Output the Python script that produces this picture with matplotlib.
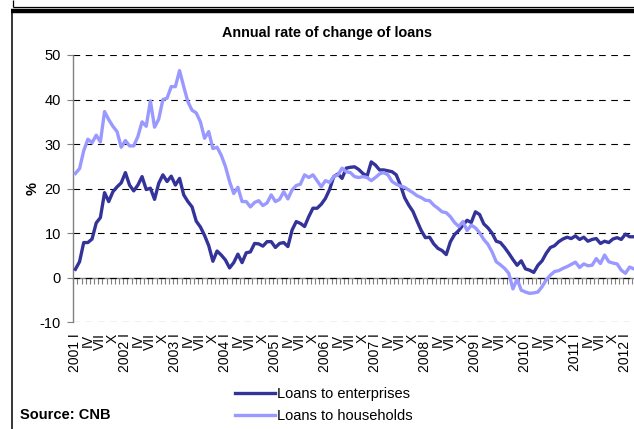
import numpy as np
import matplotlib
matplotlib.use("Agg")
import matplotlib.pyplot as plt
from matplotlib.lines import Line2D

plt.rcParams['font.family'] = ['Liberation Sans', 'DejaVu Sans']

# Monthly annual growth rates, Jan 2001 - Mar 2012 (%)
enterprises = [
    1.9, 3.6, 7.9, 7.9, 8.7, 12.3, 13.5, 19.1, 17.1, 19.3, 20.4, 21.3,
    23.6, 20.8, 19.5, 20.8, 22.7, 19.8, 20.1, 17.6, 21.2, 23.1, 21.6, 22.8,
    20.8, 22.3, 18.6, 17.1, 15.9, 12.7, 11.4, 9.5, 7.2, 3.7, 6.0, 5.1,
    4.0, 2.2, 3.4, 5.3, 3.4, 5.6, 5.8, 7.7, 7.6, 7.1, 8.1, 8.1,
    6.8, 7.7, 7.9, 7.0, 10.7, 12.6, 12.2, 11.5, 13.7, 15.6, 15.6, 16.5,
    17.8, 19.8, 22.7, 23.3, 22.3, 24.6, 24.8, 24.9, 24.3, 23.4, 22.8, 26.0,
    25.3, 24.2, 24.2, 24.0, 23.8, 23.1, 20.8, 18.0, 16.3, 14.9, 12.7, 10.6,
    9.0, 9.1, 7.6, 6.6, 6.1, 5.2, 8.1, 9.7, 10.6, 11.8, 12.9, 12.4,
    14.8, 14.2, 12.1, 11.2, 10.0, 8.2, 7.9, 6.8, 5.5, 4.1, 2.8, 3.8,
    2.0, 1.7, 1.2, 2.8, 3.8, 5.5, 6.8, 7.2, 8.1, 8.7, 9.1, 8.8,
    9.4, 8.6, 9.1, 8.2, 8.6, 8.8, 7.7, 8.2, 7.9, 8.7, 9.0, 8.6,
    9.8, 9.2, 9.2,
]
households = [
    23.4, 24.5, 28.5, 31.1, 30.3, 32.0, 30.5, 37.3, 35.5, 34.0, 32.8, 29.3,
    30.8, 29.6, 29.6, 31.7, 35.0, 34.0, 39.7, 33.8, 35.6, 40.0, 40.3, 42.9,
    42.9, 46.5, 42.9, 39.5, 37.6, 37.0, 35.0, 31.3, 32.8, 29.0, 29.3, 27.5,
    25.0, 21.6, 18.9, 20.3, 17.1, 17.1, 15.9, 16.9, 17.3, 16.2, 16.8, 18.6,
    17.1, 17.6, 19.3, 17.7, 19.7, 20.7, 21.0, 23.1, 22.5, 23.1, 21.8, 20.4,
    21.8, 21.4, 22.7, 23.1, 24.6, 23.8, 23.6, 22.7, 22.5, 22.7, 22.5, 21.8,
    22.5, 23.3, 23.6, 23.1, 21.6, 21.0, 20.6, 20.3, 19.7, 19.1, 18.4, 18.0,
    17.4, 17.3, 16.3, 15.6, 14.8, 14.6, 13.7, 12.4, 11.5, 12.6, 10.6, 11.8,
    11.2, 10.1, 8.6, 7.5, 5.8, 3.6, 2.9, 2.1, 1.0, -2.5, -0.3, -2.8,
    -3.2, -3.5, -3.4, -3.2, -2.0, -0.5, 0.6, 1.4, 1.6, 2.1, 2.5, 3.0,
    3.5, 2.3, 3.1, 2.7, 2.8, 4.3, 3.2, 5.1, 3.6, 3.3, 3.1, 1.7,
    1.0, 2.4, 2.0,
]
years = list(range(2001, 2013))
quarters = ["I", "IV", "VII", "X"]
y_ticks = [-10, 0, 10, 20, 30, 40, 50]

W, H = 634, 429
fig = plt.figure(figsize=(W / 100, H / 100), dpi=100)


def fx(px):
    return px / W


def fy(py):
    return 1 - py / H


# outer frame pieces
for (x0, y0, x1, y1, lw) in [
    (12.5, 0, 12.5, 7, 0.9),
    (12.5, 7, W, 7, 0.9),
    (11, 11, W, 11, 3.2),
    (11.5, 11, 11.5, H, 1.1),
]:
    fig.add_artist(Line2D([fx(x0), fx(x1)], [fy(y0), fy(y1)],
                          transform=fig.transFigure, color='black',
                          lw=lw, solid_capstyle='butt'))

left, right, top, bottom = 73.3, W, 55.0, 322.3
ax = fig.add_axes([fx(left), fy(bottom), fx(right - left), (bottom - top) / H])

n = len(enterprises)
xpos = np.arange(n) + 0.5
ax.plot(xpos, enterprises, color='#333399', lw=2.4, label='Loans to enterprises',
        solid_joinstyle='round', zorder=3)
ax.plot(xpos, households, color='#9999FF', lw=2.4, label='Loans to households',
        solid_joinstyle='round', zorder=4)

months_per_px = 1 / 4.167
ax.set_xlim(0, (right - left) * months_per_px)
ax.set_ylim(-10, 50)

ax.set_yticks(y_ticks)
ax.set_yticklabels([str(v) for v in y_ticks], fontsize=10.5)
ax.yaxis.grid(True, color='black', lw=0.8, linestyle=(0, (6, 5)))
ax.set_axisbelow(True)
ax.tick_params(axis='y', direction='out', length=4, width=0.8, color='#808080', pad=5)

labels, lpos = [], []
for y in years:
    for qi, q in enumerate(quarters):
        m = (y - 2001) * 12 + qi * 3
        if m > n - 1:
            break
        lpos.append(m + 0.5)
        labels.append(f"{y} {q}" if q == "I" else q)
ax.set_xticks(lpos)
ax.set_xticklabels(labels, rotation=90, fontsize=10, va='top', ha='center')
ax.tick_params(axis='x', length=0, pad=8)

for s in ['top', 'right', 'bottom']:
    ax.spines[s].set_visible(False)
ax.spines['left'].set_color('#808080')
ax.spines['left'].set_linewidth(1.0)

# zero line carrying the monthly tick marks
sec = ax.secondary_xaxis(10 / 60)
sec.set_xticks(np.arange(0, n + 1))
sec.set_xticklabels([])
sec.tick_params(direction='out', length=4, width=0.8, color='#808080')
sec.spines['bottom'].set_color('#808080')
sec.spines['bottom'].set_linewidth(1.0)

ax.set_ylabel('%', fontsize=10.5, fontweight='bold')
ax.yaxis.set_label_coords((40 - left) / (right - left), 0.5)

fig.text(fx(327), fy(33), 'Annual rate of change of loans', ha='center',
         va='center', fontsize=10.4, fontweight='bold')
fig.text(fx(20), fy(415), 'Source: CNB', ha='left', va='center',
         fontsize=10.5, fontweight='bold')

h, l = ax.get_legend_handles_labels()
leg = fig.legend(h, l, loc='upper left',
                 bbox_to_anchor=(fx(235), fy(387)), frameon=False,
                 fontsize=10.5, handlelength=2.75, handletextpad=0.15,
                 labelspacing=0.55, borderpad=0, borderaxespad=0)

fig.savefig('out.png', dpi=100)
